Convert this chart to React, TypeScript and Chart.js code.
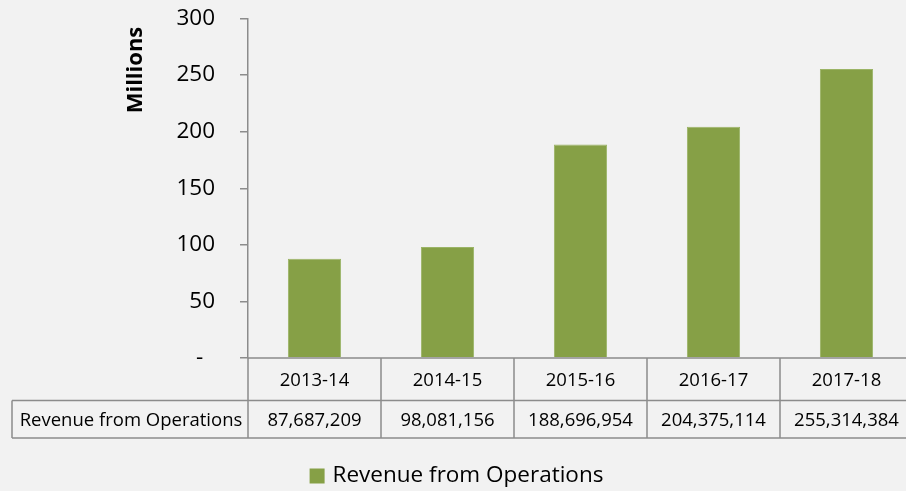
import React, { useEffect, useRef } from "react";
import { Chart, registerables } from "chart.js";

Chart.register(...registerables);

const categories: string[] = ["2013-14", "2014-15", "2015-16", "2016-17", "2017-18"];
const revenue: number[] = [87687209, 98081156, 188696954, 204375114, 255314384];
const seriesName = "Revenue from Operations";
const yTicks: number[] = [0, 50, 100, 150, 200, 250, 300];
const axisTitle = "Millions";

const BAR = "#86a046";
const LINE = "#8c8c8c";
const FONT = "'Open Sans', 'DejaVu Sans', sans-serif";

const fmt = (n: number) => n.toLocaleString("en-US");

const tablePlugin = {
  id: "dataTable",
  afterDraw(chart: any) {
    const ctx = chart.ctx as CanvasRenderingContext2D;
    const xs = chart.scales.x;
    const area = chart.chartArea;
    const top = area.bottom;
    const mid = top + 42.5;
    const bot = mid + 37.5;
    const labelLeft = 12;
    const half = (xs.getPixelForValue(1) - xs.getPixelForValue(0)) / 2;
    ctx.save();
    ctx.strokeStyle = LINE;
    ctx.lineWidth = 1.5;
    ctx.beginPath();
    ctx.moveTo(area.left, top);
    ctx.lineTo(chart.width, top);
    ctx.moveTo(labelLeft, mid);
    ctx.lineTo(chart.width, mid);
    ctx.moveTo(labelLeft, bot);
    ctx.lineTo(chart.width, bot);
    ctx.moveTo(labelLeft, mid);
    ctx.lineTo(labelLeft, bot);
    ctx.moveTo(area.left, top);
    ctx.lineTo(area.left, bot);
    categories.forEach((_, i) => {
      const r = xs.getPixelForValue(i) + half;
      ctx.moveTo(r, top);
      ctx.lineTo(r, bot);
    });
    ctx.stroke();

    ctx.fillStyle = "#000";
    ctx.textBaseline = "middle";
    ctx.textAlign = "center";
    ctx.font = `18.5px ${FONT}`;
    categories.forEach((c, i) => {
      const cx = xs.getPixelForValue(i);
      ctx.fillText(c, cx, (top + mid) / 2 + 1);
      ctx.fillText(fmt(revenue[i]), cx, (mid + bot) / 2 + 1);
    });
    ctx.fillText(seriesName, (labelLeft + area.left) / 2 + 1, (mid + bot) / 2 + 1);

    // legend
    ctx.font = `22.5px ${FONT}`;
    const tw = ctx.measureText(seriesName).width;
    const box = 15;
    const gap = 8;
    const total = box + gap + tw;
    const lx = chart.width / 2 - total / 2;
    const ly = 476;
    ctx.fillStyle = BAR;
    ctx.fillRect(lx, ly - box / 2, box, box);
    ctx.fillStyle = "#000";
    ctx.textAlign = "left";
    ctx.fillText(seriesName, lx + box + gap, ly);

    // axis title
    ctx.save();
    ctx.translate(136, 70);
    ctx.rotate(-Math.PI / 2);
    ctx.textAlign = "center";
    ctx.font = `bold 22px ${FONT}`;
    ctx.fillText(axisTitle, 0, 0);
    ctx.restore();
    ctx.restore();
  },
};

export default function App() {
  const ref = useRef<HTMLCanvasElement | null>(null);
  useEffect(() => {
    if (!ref.current) return;
    const chart = new Chart(ref.current, {
      type: "bar",
      data: {
        labels: categories,
        datasets: [
          {
            label: seriesName,
            data: revenue.map((v) => v / 1e6),
            backgroundColor: BAR,
            borderColor: "#9bb466",
            borderWidth: 1,
            categoryPercentage: 1,
            barPercentage: 0.4,
          },
        ],
      },
      options: {
        responsive: false,
        animation: false,
        layout: { padding: { top: 0, left: 0, right: 0, bottom: 0 } },
        plugins: { legend: { display: false }, tooltip: { enabled: false } },
        scales: {
          x: {
            ticks: { display: false },
            grid: { display: false },
            border: { display: false },
            afterFit: (s: any) => {
              s.height = 133;
            },
          },
          y: {
            min: 0,
            max: 300,
            afterBuildTicks: (s: any) => {
              s.ticks = yTicks.map((v) => ({ value: v }));
            },
            ticks: {
              padding: 25,
              color: "#000",
              font: { family: FONT, size: 22.5 },
              callback: (v: any) => (Number(v) === 0 ? "-  " : String(v)),
            },
            grid: {
              display: true,
              drawOnChartArea: false,
              drawTicks: true,
              tickLength: 8,
              color: LINE,
              lineWidth: 1.5,
            },
            border: { display: true, color: LINE, width: 1.5 },
            afterFit: (s: any) => {
              s.width = 248;
              s.paddingTop = 18.5;
            },
          },
        },
      },
      plugins: [tablePlugin],
    });
    return () => chart.destroy();
  }, []);
  return (
    <div
      style={{
        position: "fixed",
        left: 0,
        top: 0,
        width: 906,
        height: 491,
        overflow: "hidden",
        background: "#f2f2f2",
      }}
    >
      <canvas ref={ref} width={913} height={491} style={{ display: "block" }} />
    </div>
  );
}
